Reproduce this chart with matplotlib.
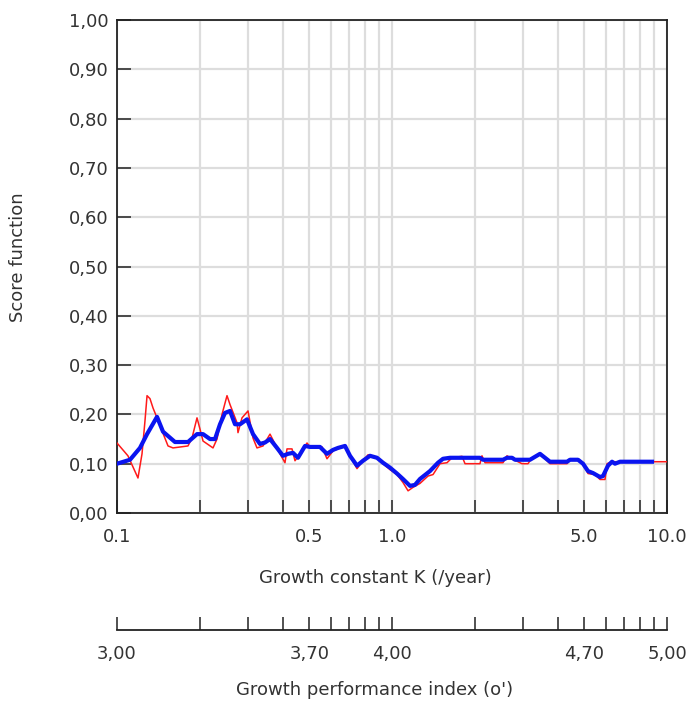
import numpy as np
import matplotlib
matplotlib.use("Agg")
import matplotlib.pyplot as plt
from matplotlib.ticker import FixedLocator, FixedFormatter, NullFormatter

# ---- data -------------------------------------------------------------
# raw score function (red)
k_raw = [0.100, 0.1096, 0.1192, 0.1233, 0.1264, 0.1286, 0.1318, 0.1352, 0.1398,
         0.1457, 0.1533, 0.1598, 0.1812, 0.1874, 0.1954, 0.2004, 0.2055, 0.2234,
         0.2310, 0.2409, 0.2512, 0.2576, 0.2732, 0.2754, 0.2848, 0.2995, 0.3123,
         0.3229, 0.3396, 0.3601, 0.3915, 0.4082, 0.4151, 0.4329, 0.4439, 0.4628,
         0.4909, 0.5033, 0.5566, 0.5802, 0.6102, 0.6747, 0.7036, 0.7460, 0.7844,
         0.8180, 0.8820, 0.9275, 0.9834, 1.043, 1.096, 1.144, 1.192, 1.264, 1.352,
         1.410, 1.495, 1.585, 1.653, 1.797, 1.843, 2.089, 2.124, 2.179, 2.533,
         2.619, 2.732, 2.970, 3.123, 3.229, 3.453, 3.631, 3.754, 4.329, 4.439,
         4.747, 4.950, 5.161, 5.473, 5.707, 5.951, 6.052, 6.310, 6.747, 10.0]
s_raw = [0.142, 0.116, 0.071, 0.120, 0.187, 0.238, 0.232, 0.213, 0.193,
         0.167, 0.136, 0.132, 0.136, 0.152, 0.193, 0.170, 0.146, 0.132,
         0.150, 0.200, 0.238, 0.220, 0.183, 0.163, 0.193, 0.207, 0.152,
         0.132, 0.136, 0.160, 0.120, 0.102, 0.130, 0.130, 0.106, 0.120,
         0.142, 0.134, 0.134, 0.110, 0.126, 0.136, 0.116, 0.090, 0.106,
         0.118, 0.112, 0.100, 0.088, 0.078, 0.062, 0.045, 0.052, 0.060, 0.075,
         0.078, 0.100, 0.102, 0.112, 0.115, 0.100, 0.100, 0.116, 0.102, 0.102,
         0.116, 0.110, 0.100, 0.100, 0.112, 0.120, 0.108, 0.100, 0.100, 0.108,
         0.108, 0.100, 0.080, 0.078, 0.068, 0.068, 0.100, 0.104, 0.104, 0.104]

# smoothed score function (blue)
k_smooth = [0.100, 0.1115, 0.1212, 0.1286, 0.1398, 0.1470, 0.1625, 0.1812, 0.1954,
            0.2055, 0.2179, 0.2272, 0.2369, 0.2470, 0.2576, 0.2686, 0.2802, 0.2970,
            0.3123, 0.3311, 0.3453, 0.3601, 0.3818, 0.4014, 0.4186, 0.4365, 0.4551,
            0.4827, 0.5033, 0.5472, 0.5802, 0.6102, 0.6363, 0.6747, 0.7036, 0.7460,
            0.7844, 0.8318, 0.8820, 0.9275, 0.9834, 1.043, 1.096, 1.163, 1.212,
            1.264, 1.374, 1.470, 1.533, 1.625, 2.089, 2.142, 2.533, 2.619, 2.732,
            2.802, 3.176, 3.311, 3.453, 3.601, 3.754, 4.329, 4.439, 4.747, 4.950,
            5.161, 5.382, 5.707, 5.852, 6.102, 6.310, 6.470, 6.747, 8.820]
s_smooth = [0.100, 0.108, 0.132, 0.160, 0.195, 0.165, 0.144, 0.144, 0.160,
            0.160, 0.150, 0.150, 0.180, 0.203, 0.207, 0.180, 0.180, 0.190,
            0.160, 0.140, 0.143, 0.150, 0.132, 0.116, 0.120, 0.122, 0.112,
            0.136, 0.134, 0.134, 0.120, 0.128, 0.132, 0.136, 0.116, 0.096,
            0.106, 0.116, 0.112, 0.102, 0.092, 0.080, 0.069, 0.055, 0.057,
            0.069, 0.085, 0.102, 0.110, 0.112, 0.112, 0.108, 0.108, 0.112, 0.112,
            0.108, 0.108, 0.114, 0.120, 0.112, 0.104, 0.104, 0.108, 0.108, 0.100,
            0.085, 0.081, 0.073, 0.075, 0.096, 0.104, 0.100, 0.104, 0.104]

# axis ticks
k_ticks = [0.1, 0.2, 0.3, 0.4, 0.5, 0.6, 0.7, 0.8, 0.9,
           1, 2, 3, 4, 5, 6, 7, 8, 9, 10]
k_major = [0.1, 0.5, 1.0, 5.0, 10.0]
k_major_labels = ["0.1", "0.5", "1.0", "5.0", "10.0"]
phi_labels = ["3,00", "3,70", "4,00", "4,70", "5,00"]
score_ticks = [0.0, 0.1, 0.2, 0.3, 0.4, 0.5, 0.6, 0.7, 0.8, 0.9, 1.0]
score_labels = ["0,00", "0,10", "0,20", "0,30", "0,40", "0,50",
                "0,60", "0,70", "0,80", "0,90", "1,00"]

# ---- figure -----------------------------------------------------------
W, H = 695, 702
plt.rcParams['font.family'] = ['DejaVu Sans']
fig = plt.figure(figsize=(W / 100, H / 100), dpi=100)

FS = 13
TXT = "#333333"
SPINE = "#222222"
GRID = "#dddddd"


def px_rect(x0, y0, x1, y1):
    return [x0 / W, 1 - y1 / H, (x1 - x0) / W, (y1 - y0) / H]


ax = fig.add_axes(px_rect(117, 20, 667, 513))
ax.set_xscale("log")
ax.set_xlim(0.1, 10)
ax.set_ylim(0, 1)

minor = [k for k in k_ticks if k not in k_major]
ax.xaxis.set_major_locator(FixedLocator(k_major))
ax.xaxis.set_major_formatter(FixedFormatter(k_major_labels))
ax.xaxis.set_minor_locator(FixedLocator(minor))
ax.xaxis.set_minor_formatter(NullFormatter())
ax.yaxis.set_major_locator(FixedLocator(score_ticks))
ax.yaxis.set_major_formatter(FixedFormatter(score_labels))

ax.grid(True, which="both", axis="x", color=GRID, lw=1.6, zorder=0)
ax.grid(True, which="major", axis="y", color=GRID, lw=1.6, zorder=0)
ax.set_axisbelow(True)

ax.tick_params(axis="x", which="both", direction="in", length=9.5, width=1.1,
               color=SPINE, labelsize=FS, labelcolor=TXT, pad=11)
ax.tick_params(axis="y", which="major", direction="in", length=10, width=1.1,
               color=SPINE, labelsize=FS, labelcolor=TXT, pad=6)
for sp in ax.spines.values():
    sp.set_color(SPINE)
    sp.set_linewidth(1.3)

ax.plot(k_raw, s_raw, color="#ff1a1a", lw=1.1, zorder=3)
ax.plot(k_smooth, s_smooth, color="#0a14f0", lw=3.0, zorder=4,
        solid_joinstyle="round")

# secondary scale: growth performance index
ax2 = fig.add_axes(px_rect(117, 600, 667, 630))
ax2.set_xscale("log")
ax2.set_xlim(0.1, 10)
ax2.patch.set_visible(False)
for side in ("left", "right", "top"):
    ax2.spines[side].set_visible(False)
ax2.spines["bottom"].set_color(SPINE)
ax2.spines["bottom"].set_linewidth(1.3)
ax2.set_yticks([])
ax2.xaxis.set_major_locator(FixedLocator(k_major))
ax2.xaxis.set_major_formatter(FixedFormatter(phi_labels))
ax2.xaxis.set_minor_locator(FixedLocator(minor))
ax2.xaxis.set_minor_formatter(NullFormatter())
ax2.tick_params(axis="x", which="both", direction="in", length=9.5, width=1.1,
                color=SPINE, labelsize=FS, labelcolor=TXT, pad=11)

fig.text(375 / W, 1 - 578 / H, "Growth constant K (/year)", ha="center",
         va="center", fontsize=FS, color=TXT)
fig.text(375 / W, 1 - 690 / H, "Growth performance index (o')", ha="center",
         va="center", fontsize=FS, color=TXT)
fig.text(18 / W, 1 - 257 / H, "Score function", ha="center", va="center",
         rotation=90, fontsize=FS, color=TXT)

fig.savefig("out.png", dpi=100)
